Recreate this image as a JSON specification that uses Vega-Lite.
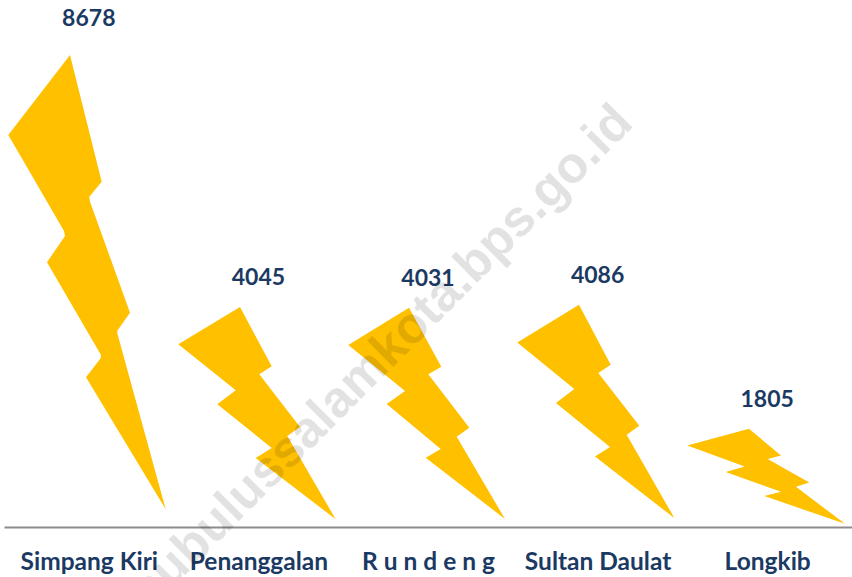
{
"$schema":"https://vega.github.io/schema/vega-lite/v6.json",
"width":848,"height":527,
"autosize":"none",
"padding":{"left":4,"top":0,"right":0,"bottom":50},
"background":"white",
"config":{"view":{"stroke":null}},
"data":{"values":[
{"kecamatan":"Simpang Kiri","jumlah":8678},
{"kecamatan":"Penanggalan","jumlah":4045},
{"kecamatan":"R u n d e n g","jumlah":4031},
{"kecamatan":"Sultan Daulat","jumlah":4086},
{"kecamatan":"Longkib","jumlah":1805}
]},
"encoding":{
"x":{"field":"kecamatan","type":"nominal","sort":null,
"scale":{"paddingInner":0,"paddingOuter":0},
"axis":{"title":null,"labelAngle":0,"ticks":false,"domainColor":"#8c8c8c","domainWidth":2,"labelFont":"Lato","labelFontWeight":"bold","labelFontSize":24.5,"labelColor":"#1B3A63","labelPadding":35,"labelBaseline":"middle","grid":false}},
"y":{"field":"jumlah","type":"quantitative","scale":{"domain":[0,9688],"nice":false},"axis":null}
},
"layer":[
{"mark":{"type":"point","filled":true,"opacity":1,"size":4,"color":"#FFC000","strokeWidth":0},
"encoding":{"shape":{"field":"kecamatan","type":"nominal","legend":null,"scale":{
"domain":["Simpang Kiri","Penanggalan","R u n d e n g","Sultan Daulat","Longkib"],
"range":[
"M-18.8 0L12.9 126.7L0.5 141.7L1.2 146.7L41.2 257.7L28.5 275.7L28.5 278.3L76.9 454.3L-2.8 322.3L11.9 303.3L12.2 300L-41.8 207.3L-23.8 181L-24.8 176L-80.5 80Z",
"M-18.4 0L13.3 59.3L0.9 67.3L41.6 120L28.9 129L77.3 212.3L-2.7 151L13.3 141L-41.1 97.3L-22.7 83.3L-80.1 37.3Z",
"M-19 0L13.3 59L0.3 66.6L41.3 120L28.7 129L77 211.3L-2.3 150L12.7 141.3L-41.3 96.3L-23 83.3L-79.7 37.3Z",
"M-18.6 0L13.1 60L0.7 68.3L41.7 121L29.1 130L76.7 213.3L-2.6 151.7L12.4 142.3L-41.6 98.3L-23.3 84.3L-80.3 37.7Z",
"M-18.2 0L13.8 26.7L0.5 30.3L42.1 53.7L28.8 58L77.8 95L-2.9 67.3L13.8 63L-41.5 43.3L-22.5 37.7L-79.9 16.7Z"
]}}}},
{"transform":[{"filter":"datum.jumlah < 8000"}],
"mark":{"type":"text","dy":-29,"font":"Lato","fontWeight":"bold","fontSize":23,"color":"#1B3A63","baseline":"middle"},
"encoding":{"text":{"field":"jumlah","type":"quantitative","format":"d"}}},
{"transform":[{"filter":"datum.jumlah > 8000"}],
"mark":{"type":"text","dy":-36,"font":"Lato","fontWeight":"bold","fontSize":23,"color":"#1B3A63","baseline":"middle"},
"encoding":{"text":{"field":"jumlah","type":"quantitative","format":"d"}}},
{"data":{"values":[{"kecamatan":"Sultan Daulat","jumlah":6700,"situs":"subulussalamkota.bps.go.id"}]},
"mark":{"type":"text","angle":315,"align":"right","baseline":"alphabetic","dx":53,"font":"Liberation Sans","fontWeight":"bold","fontSize":51,"color":"#000000","opacity":0.11},
"encoding":{"text":{"field":"situs","type":"nominal"}}}
]
}
